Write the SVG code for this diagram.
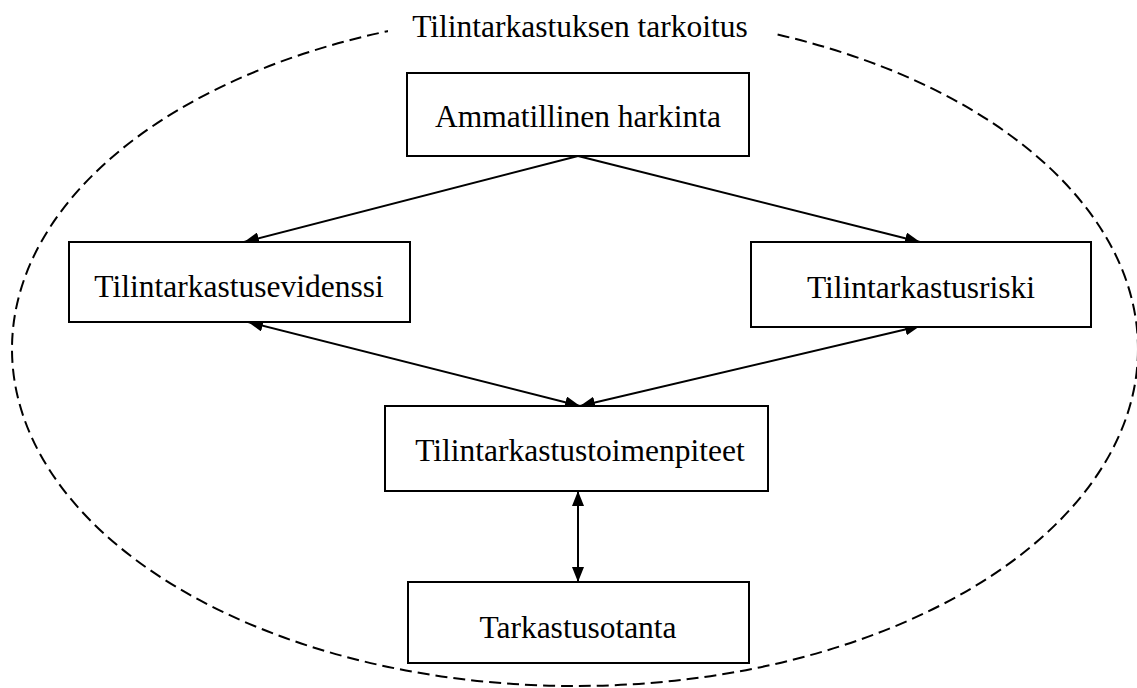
<svg xmlns="http://www.w3.org/2000/svg" width="1137" height="688" viewBox="0 0 1137 688">
<style>
.box{fill:#fff;stroke:#000;stroke-width:2}
.t{font-family:"Liberation Serif","Times New Roman",serif;font-size:31.5px;fill:#000;text-anchor:middle}
.c{stroke:#000;stroke-width:2;fill:none}
</style>
<defs>
<marker id="ah" viewBox="0 0 15 12" refX="15" refY="6" markerWidth="15" markerHeight="12" markerUnits="userSpaceOnUse" orient="auto-start-reverse">
<path d="M0,0 L15,6 L0,12 z" fill="#000"/>
</marker>
</defs>
<rect width="1137" height="688" fill="#fff"/>
<g id="boundary">
<ellipse cx="575" cy="349" rx="563" ry="337" fill="none" stroke="#000" stroke-width="2" stroke-dasharray="12,6"/>
<rect x="388" y="8" width="384" height="44" fill="#fff"/>
<text class="t" x="580" y="37">Tilintarkastuksen tarkoitus</text>
</g>
<g id="connectors">
<line class="c" x1="578" y1="156" x2="244" y2="242" marker-end="url(#ah)"/>
<line class="c" x1="578" y1="156" x2="920" y2="242" marker-end="url(#ah)"/>
<line class="c" x1="248" y1="322" x2="580" y2="406" marker-start="url(#ah)" marker-end="url(#ah)"/>
<line class="c" x1="920" y1="326" x2="580" y2="406" marker-start="url(#ah)" marker-end="url(#ah)"/>
<line class="c" x1="578" y1="491" x2="578" y2="582" marker-start="url(#ah)" marker-end="url(#ah)"/>
</g>
<g id="ammatillinen">
<rect class="box" x="407" y="73" width="342" height="83"/>
<text class="t" x="578" y="127">Ammatillinen harkinta</text>
</g>
<g id="evidenssi">
<rect class="box" x="69" y="242" width="341" height="80"/>
<text class="t" x="239" y="297">Tilintarkastusevidenssi</text>
</g>
<g id="riski">
<rect class="box" x="751" y="242" width="340" height="85"/>
<text class="t" x="921" y="298">Tilintarkastusriski</text>
</g>
<g id="toimenpiteet">
<rect class="box" x="385" y="406" width="383" height="85"/>
<text class="t" x="580" y="461">Tilintarkastustoimenpiteet</text>
</g>
<g id="otanta">
<rect class="box" x="408" y="582" width="341" height="81"/>
<text class="t" x="578" y="638">Tarkastusotanta</text>
</g>
</svg>
